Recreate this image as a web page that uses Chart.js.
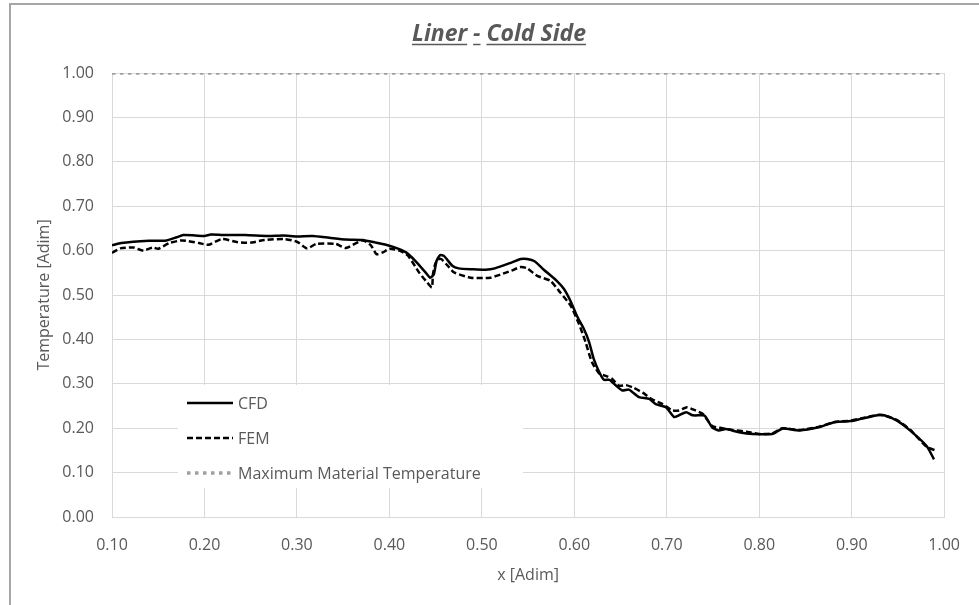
<!DOCTYPE html>
<html>
<head>
<meta charset="utf-8">
<script src="https://cdn.jsdelivr.net/npm/chart.js@4"></script>
<style>
  html, body { margin: 0; padding: 0; background: #fff; overflow: hidden; }
  #wrap { position: relative; width: 979px; height: 605px; }
  #frame { position: absolute; left: 9px; top: 3px; width: 1000px; height: 700px; border: 2px solid #a6a6a6; box-sizing: border-box; }
  canvas { position: absolute; left: 0; top: 0; }
</style>
</head>
<body>
<div id="wrap">
  <div id="frame"></div>
  <canvas id="tempChart" width="979" height="605"></canvas>
</div>
<script>
// DATA
const cfdX = [0.100, 0.110, 0.123, 0.140, 0.159, 0.170, 0.177, 0.190, 0.200, 0.207, 0.220, 0.244, 0.269, 0.285, 0.300, 0.317, 0.335, 0.353, 0.371, 0.385,
    0.400, 0.410, 0.418, 0.428, 0.439, 0.444, 0.448, 0.451, 0.455, 0.459, 0.468, 0.475, 0.490, 0.504, 0.514, 0.532, 0.542, 0.549, 0.557, 0.567,
    0.581, 0.589, 0.596, 0.603, 0.610, 0.616, 0.621, 0.627, 0.632, 0.638, 0.645, 0.652, 0.659, 0.670, 0.681, 0.688, 0.699, 0.708, 0.713, 0.721,
    0.728, 0.739, 0.742, 0.749, 0.756, 0.764, 0.778, 0.793, 0.814, 0.825, 0.843, 0.864, 0.882, 0.899, 0.910, 0.928, 0.935, 0.949, 0.963, 0.981, 0.989];
const cfdY = [0.612, 0.617, 0.620, 0.622, 0.623, 0.630, 0.635, 0.634, 0.633, 0.636, 0.635, 0.635, 0.633, 0.634, 0.632, 0.633, 0.629, 0.625, 0.624, 0.618,
    0.611, 0.604, 0.596, 0.577, 0.551, 0.539, 0.546, 0.577, 0.590, 0.588, 0.566, 0.560, 0.558, 0.557, 0.560, 0.573, 0.581, 0.581, 0.576, 0.557,
    0.532, 0.513, 0.486, 0.452, 0.425, 0.394, 0.356, 0.326, 0.309, 0.309, 0.296, 0.285, 0.287, 0.270, 0.266, 0.254, 0.247, 0.225, 0.229, 0.236,
    0.229, 0.229, 0.226, 0.202, 0.195, 0.198, 0.191, 0.187, 0.187, 0.199, 0.195, 0.202, 0.214, 0.216, 0.221, 0.229, 0.229, 0.217, 0.195, 0.160, 0.130];

const femX = [0.100, 0.109, 0.123, 0.134, 0.144, 0.150, 0.162, 0.176, 0.194, 0.204, 0.219, 0.236, 0.250, 0.265, 0.286, 0.300, 0.311, 0.321, 0.342, 0.353,
    0.371, 0.380, 0.386, 0.393, 0.400, 0.411, 0.420, 0.432, 0.441, 0.446, 0.447, 0.449, 0.452, 0.456, 0.463, 0.470, 0.488, 0.509, 0.520, 0.532,
    0.542, 0.549, 0.560, 0.574, 0.585, 0.596, 0.605, 0.612, 0.619, 0.627, 0.634, 0.641, 0.648, 0.656, 0.663, 0.674, 0.684, 0.695, 0.706, 0.713,
    0.722, 0.731, 0.739, 0.749, 0.760, 0.771, 0.786, 0.800, 0.814, 0.825, 0.843, 0.864, 0.882, 0.899, 0.910, 0.928, 0.935, 0.949, 0.963, 0.981, 0.992];
const femY = [0.595, 0.605, 0.607, 0.600, 0.607, 0.604, 0.617, 0.623, 0.617, 0.613, 0.626, 0.619, 0.618, 0.624, 0.626, 0.620, 0.605, 0.615, 0.615, 0.606,
    0.623, 0.612, 0.592, 0.596, 0.604, 0.600, 0.589, 0.551, 0.528, 0.517, 0.545, 0.566, 0.580, 0.581, 0.566, 0.551, 0.539, 0.539, 0.546, 0.555,
    0.563, 0.560, 0.543, 0.532, 0.505, 0.476, 0.435, 0.395, 0.349, 0.323, 0.318, 0.311, 0.296, 0.297, 0.292, 0.280, 0.265, 0.255, 0.240, 0.240,
    0.247, 0.240, 0.232, 0.205, 0.200, 0.196, 0.192, 0.187, 0.188, 0.200, 0.196, 0.203, 0.214, 0.217, 0.222, 0.230, 0.229, 0.218, 0.197, 0.158, 0.149];

const maxX = [0.10, 1.00];
const maxY = [1.00, 1.00];

const seriesNames = ['CFD', 'FEM', 'Maximum Material Temperature'];
const titleParts = ['Liner', '-', 'Cold Side'];

const FONT = "'Open Sans', 'Noto Sans', sans-serif";
const TEXT = '#595959';

function toPoints(xs, ys) {
    return xs.map((x, i) => ({ x: x, y: ys[i] }));
}

// TITLE (bold italic, each part underlined separately like the Excel original)
const titlePlugin = {
    id: 'titlePlugin',
    afterDraw(chart) {
        const c = chart.ctx;
        c.save();
        c.font = 'italic bold 23px ' + FONT;
        c.fillStyle = TEXT;
        c.strokeStyle = TEXT;
        c.lineWidth = 1.5;
        c.textBaseline = 'alphabetic';
        const space = c.measureText(' ').width;
        const total = c.measureText(titleParts.join(' ')).width;
        let x = 499 - total / 2;
        const base = 41;
        titleParts.forEach(w => {
            const wd = c.measureText(w).width;
            c.fillText(w, x, base);
            c.beginPath();
            c.moveTo(x, base + 3.5);
            c.lineTo(x + wd, base + 3.5);
            c.stroke();
            x += wd + space;
        });
        c.restore();
    }
};

// LEGEND (boxed inside the plot area)
const legendPlugin = {
    id: 'legendPlugin',
    afterDatasetsDraw(chart) {
        const c = chart.ctx;
        c.save();
        c.fillStyle = '#ffffff';
        c.fillRect(178, 385, 345, 103);
        const rows = [403, 438, 473];
        chart.data.datasets.forEach((ds, i) => {
            c.beginPath();
            c.strokeStyle = ds.borderColor;
            c.lineWidth = ds.borderWidth;
            c.setLineDash(ds.borderDash || []);
            c.moveTo(187, rows[i]);
            c.lineTo(233, rows[i]);
            c.stroke();
            c.setLineDash([]);
            c.fillStyle = TEXT;
            c.font = '16px ' + FONT;
            c.textBaseline = 'middle';
            c.fillText(ds.label, 238, rows[i] + 1);
        });
        c.restore();
    }
};

const ctx = document.getElementById('tempChart').getContext('2d');
const tempChart = new Chart(ctx, {
    type: 'line',
    data: {
        datasets: [{
            label: seriesNames[0],
            data: toPoints(cfdX, cfdY),
            borderColor: '#000000',
            borderWidth: 2.5,
            pointRadius: 0,
            tension: 0.2
        }, {
            label: seriesNames[1],
            data: toPoints(femX, femY),
            borderColor: '#000000',
            borderWidth: 2.5,
            borderDash: [6, 3],
            pointRadius: 0,
            tension: 0.2
        }, {
            label: seriesNames[2],
            data: toPoints(maxX, maxY),
            borderColor: '#a0a0a0',
            borderWidth: 3.5,
            borderDash: [3.5, 4.5],
            pointRadius: 0
        }]
    },
    options: {
        responsive: false,
        animation: false,
        layout: { padding: { left: 0, right: 24, top: 73, bottom: 0 } },
        plugins: {
            legend: { display: false },
            title: { display: false },
            tooltip: { enabled: false }
        },
        scales: {
            x: {
                type: 'linear',
                min: 0.1,
                max: 1.0,
                grid: { color: '#d9d9d9', lineWidth: 1, drawTicks: false },
                border: { color: '#d9d9d9' },
                ticks: {
                    stepSize: 0.1,
                    autoSkip: false,
                    maxRotation: 0,
                    padding: 19,
                    color: TEXT,
                    font: { family: FONT, size: 16 },
                    callback: v => v.toFixed(2)
                },
                title: {
                    display: true,
                    text: 'x [Adim]',
                    color: TEXT,
                    font: { family: FONT, size: 16 },
                    padding: { top: 0, bottom: 20 }
                },
                afterFit: s => { s.height = 88; }
            },
            y: {
                min: 0,
                max: 1,
                grid: { color: '#d9d9d9', lineWidth: 1, drawTicks: false },
                border: { color: '#d9d9d9' },
                ticks: {
                    stepSize: 0.1,
                    padding: 18,
                    color: TEXT,
                    font: { family: FONT, size: 16 },
                    callback: v => v.toFixed(2)
                },
                title: {
                    display: true,
                    text: 'Temperature [Adim]',
                    color: TEXT,
                    font: { family: FONT, size: 16 },
                    padding: { top: 35, bottom: 0 }
                },
                afterFit: s => { s.width = 112; }
            }
        }
    },
    plugins: [titlePlugin, legendPlugin]
});
</script>
</body>
</html>
